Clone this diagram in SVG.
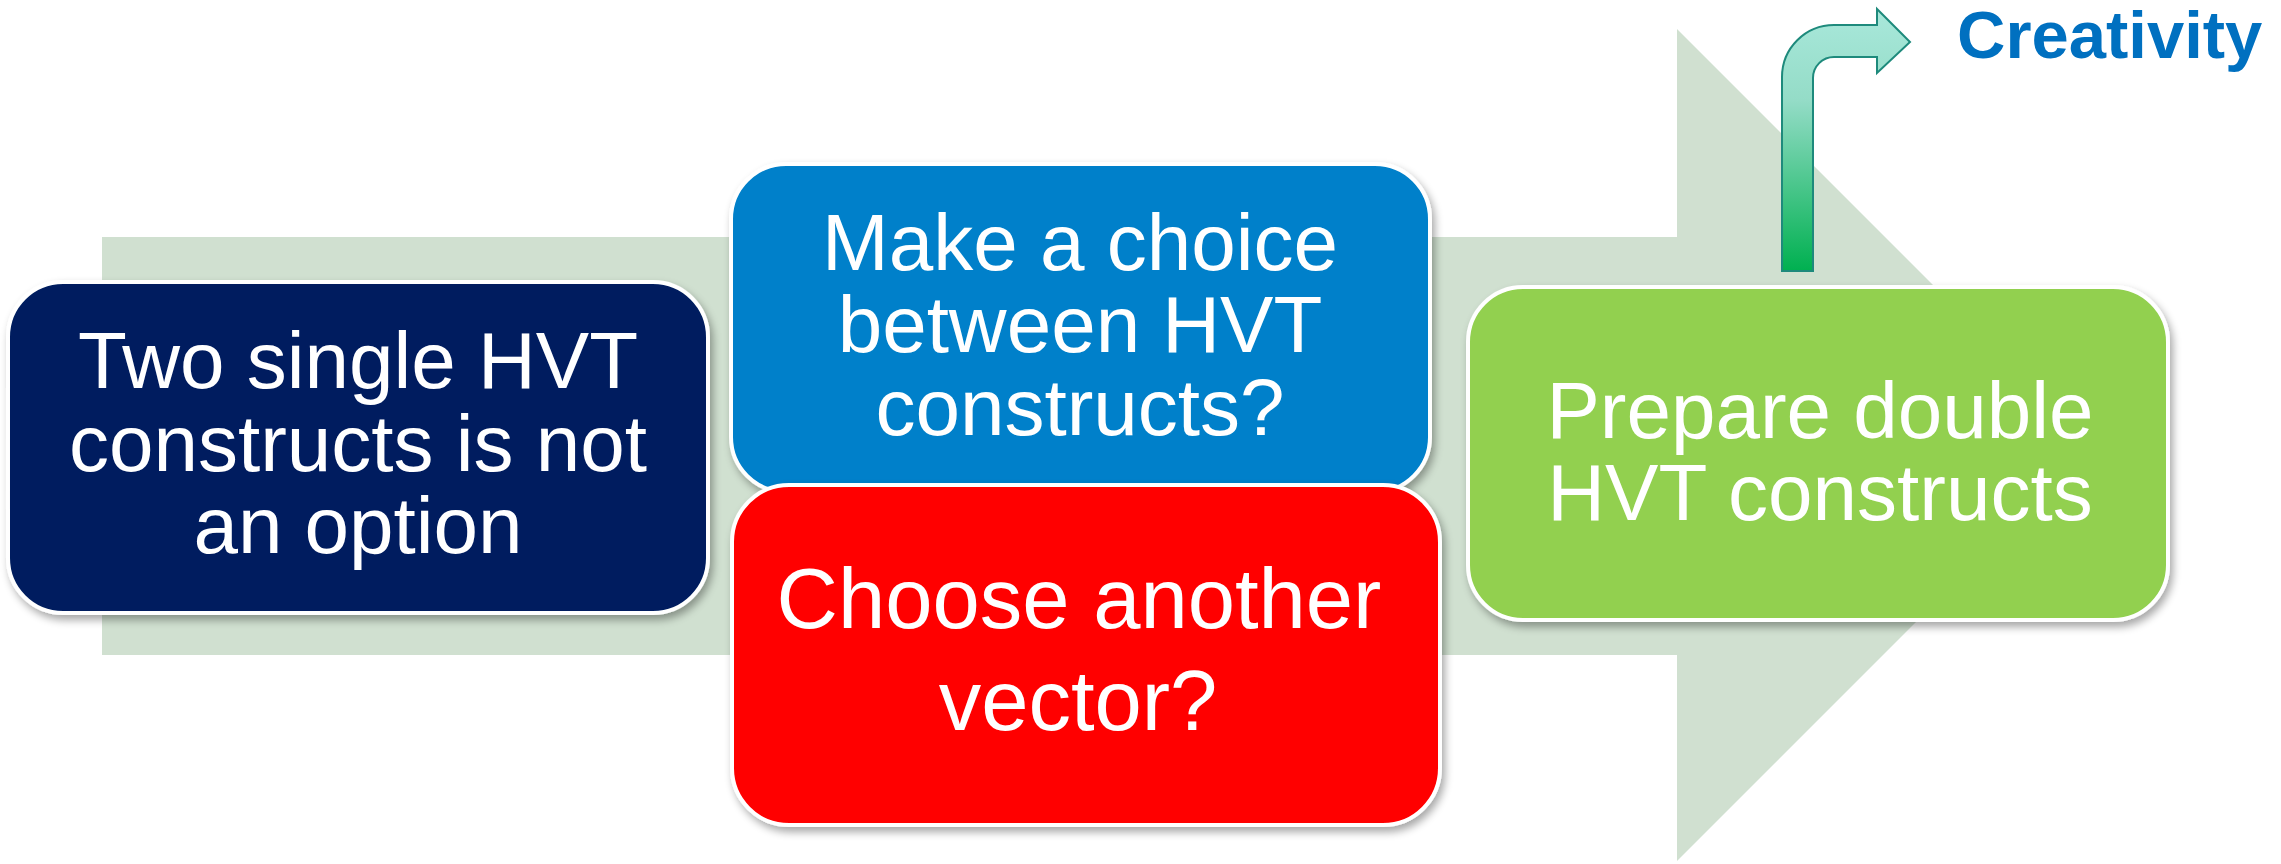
<svg xmlns="http://www.w3.org/2000/svg" width="2281" height="864" viewBox="0 0 2281 864">
<defs>
<linearGradient id="bentGrad" x1="0" y1="0" x2="0" y2="1">
<stop offset="0" stop-color="#A9E8DB"/>
<stop offset="0.35" stop-color="#94DCC7"/>
<stop offset="1" stop-color="#00B050"/>
</linearGradient>
<filter id="shadow" x="-10%" y="-10%" width="125%" height="130%">
<feGaussianBlur in="SourceAlpha" stdDeviation="4"/>
<feOffset dx="3" dy="5" result="b"/>
<feComponentTransfer><feFuncA type="linear" slope="0.35"/></feComponentTransfer>
<feMerge><feMergeNode/><feMergeNode in="SourceGraphic"/></feMerge>
</filter>
</defs>
<style>
.box{stroke:#FFFFFF;stroke-width:4}
.t{font-family:"Liberation Sans",Arial,sans-serif;fill:#FFFFFF;text-anchor:middle}
</style>
<rect width="2281" height="864" fill="#FFFFFF"/>
<g id="background-arrow">
<polygon points="102,237 1677,237 1677,29 2093,445 1677,861 1677,655 102,655" fill="#D0E0D0"/>
</g>
<g id="connectors">
<path d="M1782,271 L1782,77 A52,52 0 0 1 1834,25 L1877,25 L1877,9 L1910,42 L1877,73 L1877,57 L1834,57 A21,21 0 0 0 1813,78 L1813,271 Z" fill="url(#bentGrad)" stroke="#1E8A7C" stroke-width="2" stroke-linejoin="miter"/>
</g>
<g id="node-two-single">
<rect class="box" x="8" y="282" width="700" height="331" rx="55" ry="55" fill="#001F5F" filter="url(#shadow)"/>
<text class="t" font-size="80"><tspan x="358" y="388">Two single HVT</tspan><tspan x="358" y="471">constructs is not</tspan><tspan x="358" y="553">an option</tspan></text>
</g>
<g id="node-make-choice">
<rect class="box" x="731" y="164" width="699" height="328" rx="55" ry="55" fill="#0080CA" filter="url(#shadow)"/>
<text class="t" font-size="80"><tspan x="1080" y="270">Make a choice</tspan><tspan x="1080" y="352">between HVT</tspan><tspan x="1080" y="435">constructs?</tspan></text>
</g>
<g id="node-choose-vector">
<rect class="box" x="732" y="485" width="708" height="340" rx="57" ry="57" fill="#FF0000" filter="url(#shadow)"/>
<text class="t" font-size="85"><tspan x="1079" y="628">Choose another</tspan><tspan x="1078" y="730">vector?</tspan></text>
</g>
<g id="node-prepare-double">
<rect class="box" x="1468" y="287" width="700" height="333" rx="55" ry="55" fill="#92D050" filter="url(#shadow)"/>
<text class="t" font-size="80"><tspan x="1820" y="438">Prepare double</tspan><tspan x="1820" y="520">HVT constructs</tspan></text>
</g>
<g id="label-creativity">
<text x="1957" y="58" font-family="'Liberation Sans',Arial,sans-serif" font-weight="bold" font-size="67" fill="#0070C0">Creativity</text>
</g>
</svg>
